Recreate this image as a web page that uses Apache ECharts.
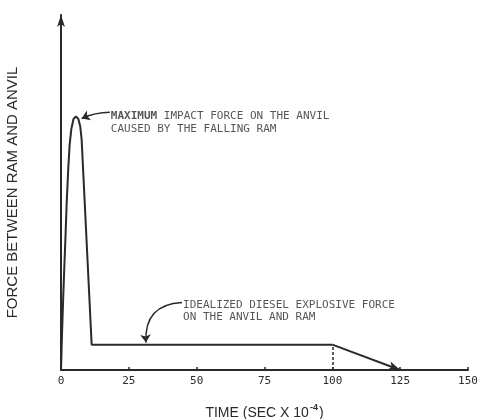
<!DOCTYPE html>
<html>
<head>
<meta charset="utf-8">
<script src="https://cdn.jsdelivr.net/npm/echarts@6/dist/echarts.min.js"></script>
<style>
  html, body { margin: 0; padding: 0; background: #ffffff; }
  #chart { width: 478px; height: 419px; }
</style>
</head>
<body>
<div id="chart"></div>
<script>
// Time axis (sec x 10^-4)
const timeTicks = [0, 25, 50, 75, 100, 125, 150];

// Impact pulse from the falling ram, then the diesel explosion plateau
const pulseTime  = [0, 0.4, 0.8, 1.2, 1.7, 2.1, 2.7, 3.2, 3.8, 4.6, 5.5, 6.4, 7.1, 7.6, 11.3];
const pulseForce = [0, 15, 28, 40, 54, 66, 80, 89, 95, 99, 100, 99, 96, 91, 10];

const plateauTime  = [11.3, 100];
const plateauForce = [10, 10];

// Linear decay of the explosive force after the plateau
const decayTime  = [100, 125];
const decayForce = [10, 0];

// Callout anchors: [text corner, point on curve]
const impactNote = [[18, 101.6], [7.6, 99.2]];
const dieselNote = [[44.6, 26.6], [31.3, 10.8]];

const impactText = ['MAXIMUM IMPACT FORCE ON THE ANVIL', 'CAUSED BY THE FALLING RAM'];
const dieselText = ['IDEALIZED DIESEL EXPLOSIVE FORCE', 'ON THE ANVIL AND RAM'];

const ink = '#2a2a2a';
const sans = 'Liberation Sans';
const lettering = 'DejaVu Sans Mono';

const curveData = pulseTime.map((t, i) => [t, pulseForce[i]])
  .concat(plateauTime.slice(1).map((t, i) => [t, plateauForce[i + 1]]));

// Curved leader with arrowhead ending on the curve
function leader(note, curveness) {
  return {
    type: 'lines',
    coordinateSystem: 'cartesian2d',
    silent: true,
    symbol: ['none', 'arrow'],
    symbolSize: 8,
    lineStyle: { color: ink, width: 1.5, opacity: 1, curveness: curveness },
    data: [{ coords: [note[0], note[1]] }]
  };
}

// Text block placed to the right of the leader's start
function noteText(note, formatter, rich, lineHeight) {
  return {
    type: 'scatter',
    silent: true,
    symbolSize: 0,
    data: [note[0]],
    label: {
      show: true, position: 'right', distance: 1,
      align: 'left', verticalAlign: 'top',
      offset: [0, -3],
      fontFamily: lettering, fontSize: 11, color: ink, lineHeight: lineHeight,
      formatter: formatter,
      rich: rich
    }
  };
}

const chart = echarts.init(document.getElementById('chart'));
chart.setOption({
  animation: false,
  backgroundColor: '#ffffff',
  grid: { left: 61, right: 10, top: 15, bottom: 49, containLabel: false, outerBoundsMode: 'none' },
  xAxis: {
    type: 'value',
    min: 0, max: 150, interval: 25,
    name: '{n|TIME (SEC X 10}{s|-4}{n|)}',
    nameLocation: 'middle',
    nameGap: 33,
    nameTextStyle: {
      fontFamily: sans, fontSize: 14, color: ink,
      rich: {
        n: { fontFamily: sans, fontSize: 14, color: ink, lineHeight: 17, verticalAlign: 'bottom' },
        s: { fontFamily: sans, fontSize: 9, fontWeight: 'bold', color: ink, lineHeight: 17, verticalAlign: 'top', padding: [0, 1, 0, 1] }
      }
    },
    axisLine: { lineStyle: { color: ink, width: 2 } },
    axisTick: { show: true, inside: true, length: 3, lineStyle: { color: ink, width: 1.5 } },
    axisLabel: {
      fontFamily: lettering, fontSize: 11, color: ink, margin: 6,
      formatter: v => timeTicks.includes(v) ? String(v) : ''
    },
    splitLine: { show: false }
  },
  yAxis: {
    type: 'value',
    min: 0, max: 140,
    name: 'FORCE BETWEEN RAM AND ANVIL',
    nameLocation: 'middle',
    nameGap: 41,
    nameRotate: 90,
    nameTextStyle: { fontFamily: sans, fontSize: 15, color: ink },
    axisLine: { show: true, lineStyle: { color: ink, width: 2 }, symbol: ['none', 'arrow'], symbolSize: [6, 12] },
    axisTick: { show: false },
    axisLabel: { show: false },
    splitLine: { show: false }
  },
  series: [
    {
      type: 'line',
      data: curveData,
      showSymbol: false,
      smooth: false,
      lineStyle: { color: ink, width: 2 },
      silent: true
    },
    {
      // decay segment with arrowhead, and dashed drop at the end of the plateau
      type: 'line',
      data: [],
      silent: true,
      markLine: {
        silent: true,
        animation: false,
        label: { show: false },
        emphasis: { disabled: true },
        data: [
          [
            { coord: [decayTime[0], decayForce[0]], symbol: 'none', lineStyle: { color: ink, width: 2, type: 'solid' } },
            { coord: [decayTime[1], decayForce[1]], symbol: 'arrow', symbolSize: [7, 12] }
          ],
          [
            { coord: [decayTime[0], 0], symbol: 'none', lineStyle: { color: ink, width: 1.5, type: [3, 2] } },
            { coord: [decayTime[0], decayForce[0]], symbol: 'none' }
          ]
        ]
      }
    },
    leader(impactNote, -0.1),
    leader(dieselNote, -0.5),
    noteText(impactNote,
      '{b|MAXIMUM}' + impactText[0].slice(7) + '\n' + impactText[1],
      { b: { fontFamily: lettering, fontSize: 11, fontWeight: 'bold', color: ink, lineHeight: 13 } },
      13),
    noteText(dieselNote, dieselText.join('\n'), {}, 12)
  ]
});
</script>
</body>
</html>
